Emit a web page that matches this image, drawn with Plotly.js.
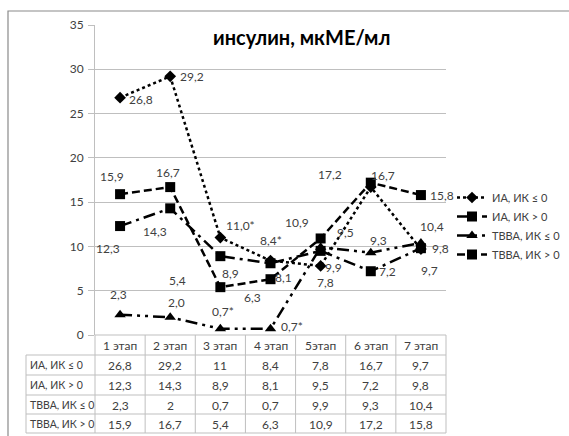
<!DOCTYPE html>
<html><head><meta charset="utf-8">
<script src="https://cdn.plot.ly/plotly-3.0.1.min.js"></script>
<style>html,body{margin:0;padding:0;background:#fff}#chart{width:569px;height:436px}</style>
</head><body><div id="chart"></div>
<script>
const categories = ['1 этап', '2 этап', '3 этап', '4 этап', '5этап', '6 этап', '7 этап'];
const seriesNames = ['ИА, ИК ≤ 0', 'ИА, ИК > 0', 'ТВВА, ИК ≤ 0', 'ТВВА, ИК > 0'];
const iaLe = [26.8, 29.2, 11, 8.4, 7.8, 16.7, 9.7];
const iaGt = [12.3, 14.3, 8.9, 8.1, 9.5, 7.2, 9.8];
const tvvaLe = [2.3, 2, 0.7, 0.7, 9.9, 9.3, 10.4];
const tvvaGt = [15.9, 16.7, 5.4, 6.3, 10.9, 17.2, 15.8];
const iaLeLabels = ['26,8', '29,2', '11,0*', '8,4*', '7,8', '16,7', '9,7'];
const iaGtLabels = ['12,3', '14,3', '8,9', '8,1', '9,5', '7,2', '9,8'];
const tvvaLeLabels = ['2,3', '2,0', '0,7*', '0,7*', '9,9', '9,3', '10,4'];
const tvvaGtLabels = ['15,9', '16,7', '5,4', '6,3', '10,9', '17,2', '15,8'];
const titleText = 'инсулин, мкМЕ/мл';

const seriesData = [iaLe, iaGt, tvvaLe, tvvaGt];
const seriesLabels = [iaLeLabels, iaGtLabels, tvvaLeLabels, tvvaGtLabels];

// styling (label offsets in px relative to the point)
const labelOffsets = [
  [[21, 2], [22, 0], [20, -12], [0, -20], [5, 17], [12, -12], [9, 21]],
  [[-12, 22], [-15, 23], [10, 17], [13, 14], [25, -18], [17, 0], [20, 0]],
  [[-2, -20], [6, -15], [3, -17], [21, -2], [13, 20], [8, -12], [11, -16]],
  [[-8, -18], [-2, -15], [-43, -7], [-18, 18], [-24, -16], [-41, -8], [21, 0]]
];
const dashes = ['dot', '12px,5px,3px,5px', '12px,5px,3px,5px,3px,5px', '8px,4px'];
const symbols = ['diamond', 'square', 'triangle-up', 'square'];
const msizes = [9, 10, 10, 10];

const fontFam = 'Lato, "Open Sans", sans-serif';
const txtColor = '#404040';

const traces = seriesData.map((d, i) => ({
  type: 'scatter', mode: 'lines+markers', name: seriesNames[i],
  x: categories, y: d,
  line: {color: '#000', width: 2.5, dash: dashes[i]},
  marker: {symbol: symbols[i], size: msizes[i], color: '#000'},
  cliponaxis: false
}));

// table / layout geometry helpers
const L = 95, R = 446, T = 25, B = 335;
const px = x => (x - L) / (R - L);
const py = y => (B - y) / (B - T);

const annotations = [];
annotations.push({xref: 'paper', yref: 'paper', x: px(301), y: py(37), xanchor: 'center', yanchor: 'middle',
  text: '<b>' + titleText + '</b>', showarrow: false, font: {family: fontFam, size: 20, color: '#000'}});
seriesData.forEach((d, i) => {
  d.forEach((v, j) => {
    annotations.push({
      xref: 'x', yref: 'y', x: categories[j], y: v, text: seriesLabels[i][j],
      xanchor: 'center', yanchor: 'middle',
      showarrow: false, xshift: labelOffsets[i][j][0], yshift: -labelOffsets[i][j][1],
      font: {family: fontFam, size: 12, color: txtColor}
    });
  });
});

const rowCenters = [345, 365, 385, 405, 424];
const fmt = v => String(v).replace('.', ',');
categories.forEach((c, j) => {
  annotations.push({xref: 'x', yref: 'paper', x: c, y: py(rowCenters[0]), text: c, showarrow: false,
    xanchor: 'center', yanchor: 'middle',
    font: {family: fontFam, size: 12, color: txtColor}});
  seriesData.forEach((d, i) => {
    annotations.push({xref: 'x', yref: 'paper', x: c, y: py(rowCenters[i + 1]), text: fmt(d[j]), showarrow: false,
      xanchor: 'center', yanchor: 'middle',
      font: {family: fontFam, size: 12, color: txtColor}});
  });
});
seriesNames.forEach((n, i) => {
  annotations.push({xref: 'paper', yref: 'paper', x: px(28), xanchor: 'left', y: py(rowCenters[i + 1]), yanchor: 'middle', text: n,
    showarrow: false, font: {family: fontFam, size: 10.5, color: txtColor}});
});

const gridC = '#bfbfbf';
const shapes = [];
const hLines = [355, 375, 395, 414, 433];
shapes.push({type: 'line', xref: 'paper', yref: 'paper', x0: 0, x1: 1, y0: py(335), y1: py(335), line: {color: gridC, width: 1}});
hLines.forEach(y => shapes.push({type: 'line', xref: 'paper', yref: 'paper', x0: px(26), x1: 1, y0: py(y), y1: py(y), line: {color: gridC, width: 1}}));
shapes.push({type: 'line', xref: 'paper', yref: 'paper', x0: px(26), x1: px(26), y0: py(355), y1: py(433), line: {color: gridC, width: 1}});
for (let k = 0; k <= 7; k++) {
  const xp = k / 7;
  shapes.push({type: 'line', xref: 'paper', yref: 'paper', x0: xp, x1: xp, y0: py(335), y1: py(433), line: {color: gridC, width: 1}});
}
// outer chart frame
shapes.push({type: 'rect', xref: 'paper', yref: 'paper', x0: px(8), x1: px(620), y0: py(11), y1: py(470), line: {color: '#8a8a8a', width: 1.2}});

const layout = {
  width: 569, height: 436,
  margin: {l: 95, r: 569 - 446, t: 25, b: 436 - 335, pad: 0, autoexpand: false},
  paper_bgcolor: '#fff', plot_bgcolor: '#fff',
  xaxis: {type: 'category', range: [-0.5, 6.5], showticklabels: false, showgrid: false, zeroline: false,
    showline: false, ticks: '', fixedrange: true},
  yaxis: {range: [0, 35], dtick: 5, showgrid: true, gridcolor: gridC, gridwidth: 1, zeroline: false,
    showline: true, linecolor: gridC, linewidth: 1, ticks: 'outside', ticklen: 6, tickcolor: gridC,
    ticklabelstandoff: 2,
    tickfont: {family: fontFam, size: 12, color: txtColor}},
  legend: {x: px(452), xanchor: 'left', y: py(226), yanchor: 'middle', yref: 'paper',
    font: {family: fontFam, size: 11, color: txtColor}, tracegroupgap: 0, itemwidth: 30, bgcolor: 'rgba(0,0,0,0)'},
  showlegend: true,
  annotations: annotations,
  shapes: shapes
};

Plotly.newPlot('chart', traces, layout, {displayModeBar: false, staticPlot: true});
</script>
</body></html>
